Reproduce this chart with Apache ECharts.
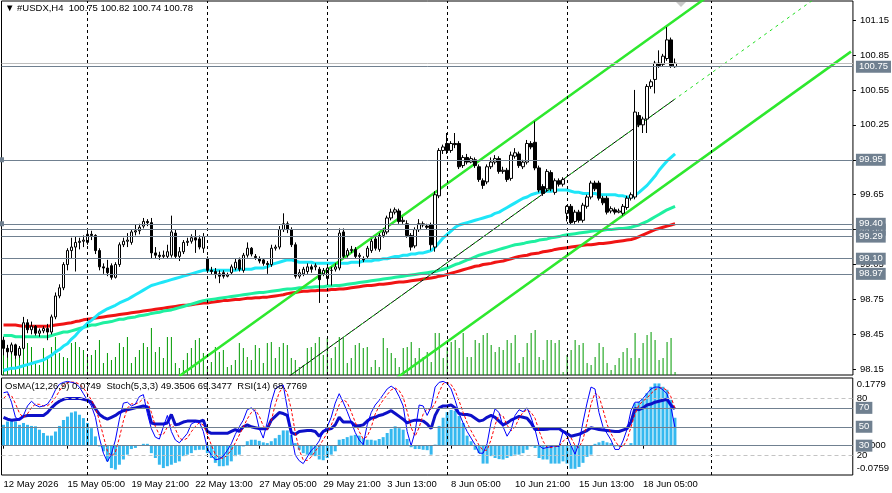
<!DOCTYPE html>
<html>
<head>
<meta charset="utf-8">
<script src="https://cdn.jsdelivr.net/npm/echarts@6/dist/echarts.min.js"></script>
<style>
html,body{margin:0;padding:0;background:#fff}
#chart{width:892px;height:493px}
</style>
</head>
<body>
<div id="chart"></div>
<script>
// H4 bars, [open, close, low, high]
var ohlc = [
 [98.40,98.33,98.27,98.43],[98.33,98.30,98.25,98.36],[98.30,98.36,98.28,98.38],[98.36,98.27,98.24,98.37],[98.27,98.33,98.25,98.35],
 [98.33,98.55,98.32,98.60],[98.55,98.49,98.46,98.58],[98.49,98.52,98.45,98.56],[98.52,98.46,98.44,98.53],[98.46,98.48,98.43,98.50],
 [98.48,98.50,98.46,98.52],[98.50,98.47,98.40,98.54],[98.47,98.60,98.45,98.62],[98.60,98.78,98.58,98.81],[98.78,98.85,98.76,98.88],
 [98.85,99.05,98.83,99.07],[99.05,99.17,99.00,99.19],[99.17,99.20,99.10,99.28],[99.20,99.24,98.99,99.29],[99.24,99.25,99.18,99.28],
 [99.25,99.26,99.20,99.30],[99.24,99.31,99.22,99.35],[99.31,99.30,99.26,99.34],[99.30,99.17,99.14,99.31],[99.17,99.03,99.00,99.19],
 [99.03,99.02,98.97,99.06],[99.02,98.98,98.95,99.09],[99.04,98.94,98.92,99.06],[98.94,99.05,98.93,99.07],[99.05,99.22,99.03,99.24],
 [99.22,99.25,99.20,99.28],[99.25,99.26,99.20,99.32],[99.24,99.33,99.22,99.35],[99.33,99.34,99.30,99.39],[99.34,99.37,99.31,99.40],
 [99.38,99.42,99.36,99.45],[99.42,99.41,99.38,99.44],[99.41,99.15,99.10,99.45],[99.15,99.13,99.10,99.20],[99.13,99.12,99.09,99.16],
 [99.12,99.13,99.10,99.17],[99.12,99.16,99.10,99.22],[99.13,99.33,99.11,99.47],[99.32,99.12,99.10,99.35],[99.12,99.16,99.08,99.20],
 [99.16,99.24,99.14,99.26],[99.24,99.25,99.21,99.28],[99.25,99.28,99.23,99.31],[99.28,99.26,99.15,99.35],[99.27,99.20,99.18,99.30],
 [99.19,99.29,99.15,99.32],[99.10,99.00,98.98,99.12],[99.00,98.99,98.96,99.03],[98.99,98.97,98.93,99.02],[98.97,98.95,98.89,99.00],
 [98.98,98.95,98.93,99.00],[98.95,98.96,98.94,98.98],[98.98,99.03,98.96,99.05],[99.02,99.07,99.00,99.10],[99.09,99.01,98.99,99.11],
 [99.00,99.13,98.98,99.15],[99.13,99.19,99.11,99.24],[99.19,99.14,99.12,99.20],[99.12,99.11,99.09,99.14],[99.10,99.08,99.06,99.12],
 [99.09,99.06,99.04,99.10],[99.06,99.05,98.97,99.08],[99.05,99.19,99.03,99.22],[99.19,99.20,99.17,99.22],[99.20,99.35,99.18,99.38],
 [99.35,99.40,99.33,99.49],[99.40,99.35,99.32,99.42],[99.35,99.22,99.20,99.37],[99.22,98.95,98.93,99.24],[98.95,98.98,98.93,99.01],
 [98.97,99.01,98.95,99.03],[98.99,99.03,98.97,99.06],[99.03,99.01,98.98,99.05],[99.03,99.04,99.00,99.06],[99.01,98.92,98.72,99.03],
 [98.97,99.00,98.95,99.02],[98.93,99.02,98.90,99.04],[99.00,99.00,98.87,99.03],[99.01,99.03,98.99,99.06],[99.02,99.32,99.00,99.36],
 [99.33,99.12,99.10,99.36],[99.13,99.17,99.11,99.19],[99.17,99.18,99.15,99.21],[99.18,99.12,99.10,99.20],[99.12,99.13,99.03,99.15],
 [99.10,99.09,99.07,99.12],[99.12,99.19,99.10,99.21],[99.17,99.25,99.15,99.27],[99.27,99.19,99.17,99.29],[99.18,99.30,99.16,99.32],
 [99.30,99.33,99.28,99.36],[99.33,99.45,99.31,99.47],[99.45,99.50,99.43,99.53],[99.50,99.52,99.48,99.54],[99.51,99.42,99.40,99.53],
 [99.42,99.43,99.40,99.46],[99.40,99.30,99.28,99.43],[99.30,99.20,99.17,99.32],[99.21,99.35,99.19,99.37],[99.35,99.40,99.33,99.44],
 [99.39,99.40,99.37,99.42],[99.38,99.37,99.35,99.40],[99.39,99.22,99.17,99.41],[99.20,99.65,99.16,99.68],[99.64,100.03,99.62,100.05],
 [100.03,100.06,100.00,100.08],[100.09,100.03,100.00,100.18],[100.03,100.09,100.01,100.11],[100.09,100.08,100.05,100.18],[100.09,99.89,99.87,100.11],
 [99.90,99.97,99.88,99.99],[99.97,99.93,99.91,100.00],[99.93,99.96,99.92,99.98],[99.95,99.90,99.88,99.97],[99.89,99.78,99.76,99.91],
 [99.77,99.73,99.70,99.79],[99.76,99.89,99.74,99.91],[99.89,99.93,99.87,99.97],[99.93,99.96,99.91,99.99],[99.96,99.85,99.83,99.98],
 [99.85,99.86,99.83,99.89],[99.86,99.78,99.76,99.88],[99.79,99.99,99.77,100.02],[99.98,100.01,99.96,100.05],[100.00,99.90,99.88,100.02],
 [99.89,99.93,99.87,99.95],[99.93,100.09,99.91,100.12],[100.09,100.06,100.04,100.11],[100.10,99.88,99.86,100.28],[99.88,99.69,99.67,99.90],
 [99.72,99.66,99.64,99.74],[99.70,99.85,99.68,99.87],[99.84,99.70,99.68,99.86],[99.67,99.77,99.65,99.79],[99.77,99.74,99.72,99.79],
 [99.74,99.78,99.72,99.80],[99.49,99.55,99.42,99.56],[99.55,99.41,99.39,99.57],[99.42,99.50,99.40,99.52],[99.50,99.43,99.41,99.52],
 [99.43,99.56,99.41,99.58],[99.55,99.63,99.53,99.65],[99.63,99.75,99.61,99.77],[99.75,99.70,99.68,99.77],[99.75,99.62,99.60,99.77],
 [99.62,99.58,99.56,99.64],[99.62,99.50,99.48,99.64],[99.51,99.53,99.49,99.55],[99.52,99.50,99.48,99.54],[99.50,99.51,99.49,99.53],
 [99.49,99.55,99.47,99.57],[99.54,99.62,99.52,99.64],[99.62,99.65,99.60,99.67],[99.63,100.36,99.61,100.55],[100.33,100.25,100.23,100.36],
 [100.25,100.30,100.18,100.32],[100.30,100.58,100.18,100.60],[100.58,100.62,100.56,100.64],[100.64,100.78,100.52,100.80],[100.78,100.76,100.74,100.89],
 [100.77,100.84,100.75,100.86],[100.82,100.98,100.80,101.09],[100.98,100.76,100.74,101.00],[100.75,100.78,100.74,100.82]
];

var volume = [
 33,28,32,22,18,37,32,28,12,10, 27,18,28,38,22,18,17,32,33,28,
 25,18,20,25,35,12,22,15,18,32, 28,38,12,18,25,32,28,47,23,28,
 17,38,38,12,7,15,22,27,35,37, 22,8,13,28,23,25,8,10,15,32,
 27,18,15,30,27,12,32,33,17,28, 32,30,17,15,8,10,27,28,32,38,
 20,37,17,28,38,37,12,17,30,32, 27,28,8,15,8,37,27,22,17,8,
 27,28,33,17,27,18,23,13,42,42, 17,28,33,35,27,42,18,18,35,32,
 40,42,30,23,28,25,35,32,40,12, 18,32,42,45,18,15,35,35,32,35,
 3,20,25,35,30,32,12,10,18,32, 28,12,5,10,17,23,27,17,42,17,
 32,40,43,35,15,17,33,37,3
];

var maFast = [
 98.14,98.15,98.16,98.16,98.17,98.18,98.19,98.20,98.21,98.22,
 98.23,98.25,98.27,98.30,98.32,98.35,98.37,98.41,98.44,98.48,
 98.51,98.545,98.57,98.60,98.63,98.65,98.67,98.685,98.70,98.72,
 98.735,98.75,98.77,98.79,98.81,98.83,98.85,98.87,98.88,98.89,
 98.90,98.91,98.92,98.93,98.94,98.95,98.96,98.97,98.98,98.99,
 99.00,99.00,99.00,99.00,99.00,99.00,99.00,99.00,99.00,99.01,
 99.01,99.01,99.01,99.02,99.02,99.02,99.03,99.05,99.06,99.07,
 99.08,99.09,99.09,99.08,99.07,99.07,99.07,99.07,99.06,99.06,
 99.06,99.06,99.06,99.06,99.06,99.06,99.06,99.07,99.07,99.07,
 99.08,99.08,99.08,99.09,99.09,99.10,99.10,99.11,99.12,99.12,
 99.13,99.13,99.14,99.14,99.15,99.15,99.16,99.17,99.20,99.24,
 99.28,99.31,99.34,99.37,99.39,99.40,99.41,99.42,99.43,99.44,
 99.45,99.46,99.47,99.49,99.50,99.52,99.54,99.56,99.58,99.60,
 99.62,99.63,99.65,99.66,99.67,99.68,99.68,99.68,99.69,99.69,
 99.69,99.69,99.68,99.67,99.67,99.66,99.66,99.66,99.66,99.65,
 99.65,99.65,99.65,99.65,99.64,99.64,99.63,99.63,99.645,99.67,
 99.70,99.73,99.77,99.81,99.86,99.90,99.94,99.97,100.00
];

var maMid = [
 98.44,98.44,98.44,98.43,98.43,98.43,98.43,98.43,98.43,98.43,
 98.43,98.43,98.44,98.45,98.46,98.47,98.47,98.48,98.49,98.50,
 98.51,98.52,98.53,98.53,98.54,98.55,98.555,98.56,98.57,98.58,
 98.58,98.59,98.595,98.60,98.61,98.615,98.62,98.63,98.635,98.64,
 98.65,98.655,98.66,98.67,98.68,98.69,98.70,98.71,98.72,98.73,
 98.74,98.745,98.75,98.755,98.76,98.765,98.77,98.775,98.78,98.785,
 98.79,98.795,98.80,98.805,98.81,98.81,98.815,98.82,98.825,98.83,
 98.835,98.84,98.84,98.845,98.85,98.85,98.855,98.855,98.86,98.86,
 98.86,98.865,98.865,98.87,98.87,98.875,98.88,98.885,98.89,98.895,
 98.90,98.905,98.91,98.915,98.92,98.925,98.93,98.935,98.94,98.945,
 98.95,98.955,98.96,98.965,98.97,98.975,98.98,98.985,98.99,99.00,
 99.01,99.02,99.035,99.05,99.06,99.075,99.09,99.10,99.115,99.13,
 99.14,99.15,99.16,99.17,99.18,99.19,99.20,99.21,99.22,99.225,
 99.23,99.24,99.245,99.25,99.26,99.265,99.27,99.28,99.285,99.29,
 99.30,99.305,99.31,99.315,99.32,99.325,99.33,99.335,99.34,99.34,
 99.345,99.35,99.35,99.355,99.36,99.36,99.365,99.37,99.38,99.39,
 99.405,99.42,99.44,99.46,99.48,99.50,99.52,99.535,99.55
];

var maSlow = [
 98.53,98.53,98.53,98.53,98.525,98.52,98.52,98.52,98.52,98.52,
 98.52,98.52,98.525,98.53,98.535,98.54,98.545,98.55,98.56,98.565,
 98.575,98.58,98.585,98.59,98.595,98.60,98.605,98.61,98.615,98.62,
 98.625,98.63,98.635,98.64,98.645,98.65,98.655,98.66,98.665,98.67,
 98.675,98.68,98.685,98.69,98.695,98.70,98.70,98.705,98.71,98.715,
 98.72,98.72,98.725,98.73,98.735,98.74,98.74,98.745,98.75,98.75,
 98.755,98.76,98.76,98.765,98.765,98.77,98.77,98.775,98.78,98.785,
 98.79,98.80,98.805,98.81,98.815,98.82,98.82,98.825,98.825,98.83,
 98.83,98.83,98.835,98.835,98.84,98.84,98.845,98.85,98.855,98.86,
 98.865,98.87,98.87,98.875,98.88,98.88,98.885,98.89,98.895,98.90,
 98.90,98.905,98.91,98.915,98.92,98.925,98.93,98.935,98.94,98.95,
 98.955,98.965,98.975,98.985,98.995,99.005,99.015,99.025,99.035,99.04,
 99.05,99.055,99.06,99.07,99.075,99.08,99.09,99.10,99.11,99.12,
 99.125,99.13,99.14,99.145,99.15,99.16,99.165,99.17,99.18,99.185,
 99.19,99.195,99.20,99.205,99.21,99.215,99.22,99.22,99.225,99.23,
 99.23,99.235,99.24,99.245,99.25,99.255,99.26,99.265,99.275,99.29,
 99.305,99.32,99.335,99.35,99.36,99.37,99.38,99.39,99.40
];

// channel anchors [bar, price]
var channelUpper = [[44, 98.092], [176, 101.348]];
var channelMiddle = [[68, 98.005], [212, 101.557]];
var channelMedian = [[68, 98.005], [168, 100.472]];
var channelLower = [[95, 97.993], [212, 100.879]];

var osma = [
 0.056,0.065,0.069,0.065,0.056,0.061,0.056,0.053,0.052,0.043,
 0.034,0.027,0.027,0.038,0.053,0.069,0.078,0.089,0.092,0.083,
 0.074,0.061,0.047,0.025,-0.002,-0.015,-0.042,-0.060,-0.064,-0.051,
 -0.037,-0.024,-0.009,-0.006,0.001,0.005,0.005,-0.020,-0.033,-0.051,
 -0.060,-0.055,-0.051,-0.046,-0.042,-0.028,-0.024,-0.020,-0.012,-0.011,
 -0.011,-0.020,-0.033,-0.046,-0.055,-0.055,-0.053,-0.042,-0.028,-0.024,
 -0.002,0.012,0.016,0.016,0.013,0.009,0.007,0.012,0.020,0.029,
 0.041,0.041,0.029,0.007,-0.011,-0.020,-0.024,-0.028,-0.028,-0.037,
 -0.039,-0.033,-0.024,-0.015,0.016,0.018,0.023,0.027,0.029,0.027,
 0.020,0.016,0.016,0.014,0.018,0.023,0.034,0.045,0.052,0.047,
 0.043,0.018,-0.004,-0.009,-0.009,-0.011,-0.012,-0.024,0.003,0.053,
 0.075,0.090,0.096,0.094,0.080,0.061,0.027,0.012,-0.011,-0.020,
 -0.048,-0.048,-0.028,-0.033,-0.036,-0.037,-0.033,-0.028,-0.024,-0.024,
 -0.020,-0.011,-0.002,-0.006,-0.033,-0.037,-0.037,-0.048,-0.048,-0.048,
 -0.042,-0.048,-0.062,-0.062,-0.057,-0.046,-0.030,-0.024,0.005,0.009,
 0.013,0.009,0.007,-0.002,-0.002,0.002,0.001,0.007,0.114,0.118,
 0.127,0.141,0.158,0.167,0.167,0.158,0.150,0.123,0.075
];

var stochMain = [
 86,87,76,60,57,62,72,77,73,71,
 72,74,80,89,95,97,98,97,96,92,
 85,78,72,60,38,22,13,21,36,58,
 75,76,72,74,82,84,64,48,39,37,
 50,62,45,36,33,38,43,53,55,55,
 45,27,20,15,16,19,25,32,42,50,
 57,68,70,66,48,38,55,76,90,93,
 94,70,42,20,14,11,18,25,29,35,
 45,50,60,75,85,76,66,55,44,36,
 31,52,65,73,78,84,90,93,90,82,
 72,45,30,45,73,72,62,71,92,97,
 98,96,90,78,64,54,45,38,31,22,
 22,32,55,69,65,50,40,47,62,68,
 66,70,60,47,30,27,28,29,30,29,
 45,40,30,21,33,55,75,92,90,65,
 50,43,36,26,26,35,47,67,76,76,
 80,85,90,92,92,89,85,71,49.35
];

var stochSignal = [
 80,84,83,74.3,64.3,59.7,63.7,70.3,74,73.7,
 72,72.3,75.3,81,88,93.7,96.7,97.3,97,95,
 91,85,78.3,70,56.7,40,24.3,18.7,23.3,38.3,
 56.3,69.7,74.3,74,76,80,76.7,65.3,50.3,41.3,
 42,49.7,52.3,47.7,38,35.7,38,44.7,50.3,54.3,
 51.7,42.3,30.7,20.7,17,16.7,20,25.3,33,41.3,
 49.7,58.3,65,68,61.3,50.7,47,56.3,73.7,86.3,
 92.3,85.7,68.7,44,25.3,15,14.3,18,24,29.7,
 36.3,43.3,51.7,61.7,73.3,78.7,75.7,65.7,55,45,
 37,39.7,49.3,63.3,72,78.3,84,89,91,88.3,
 81.3,66.3,49,40,49.3,63.3,69,68.3,75,86.7,
 95.7,97,94.7,88,77.3,65.3,54.3,45.7,38,30.3,
 25,25.3,36.3,52,63,61.3,51.7,45.7,49.7,59,
 65.3,68,65.3,59,45.7,34.7,28.3,28,29,29.3,
 34.7,38,38.3,30.3,28,36.3,54.3,74,85.7,82.3,
 68.3,52.7,43,35,29.3,29,36,49.7,63.3,73,
 77.3,80.3,85,89,91.3,91,88.7,81.7,69.35
];

var rsi = [
 60,58,57,57.5,58,61,62,62,62,62,
 62,65,70,74,77,79,80,80,80,80,
 79,78,76,69,63,60,58,60,62,65,
 67,68,69,70,71,72,71,54,53,53,
 53,54,63,52,53,55,56,56,56,55.5,
 57,45,43,43,43,43,43,45,47,45,
 50,52,50,49,48,48,48,57,61,65,
 64,62,44,42,45,45.5,46,46,45,40,
 45,47,48,52,60,55,55,55,51,51,
 52,56,59,60,62,63,65,67,64,61,
 58,54,56,57,57,56,53,48,62,70,
 72,72,73,70,64,63,63,62,59,56,
 57,60,62,60,56,52,54,57,59,61,
 60,59,54,47,47,47,47.3,48,48,48,
 45,43,40,41,42,44,46,49,48,47,
 46.5,46,45.5,45,45,46.5,48,55,69.5,68,
 70,73,74,76,77,78,79,73,68.78
];

var timeLabels = ['12 May 2026', '15 May 05:00', '19 May 21:00', '22 May 13:00', '27 May 05:00',
  '29 May 21:00', '3 Jun 13:00', '8 Jun 05:00', '10 Jun 21:00', '15 Jun 13:00', '18 Jun 05:00'];
var priceTicks = [98.15, 98.45, 98.75, 99.05, 99.35, 99.65, 99.95, 100.25, 100.55, 100.85, 101.15];
var gridBars = [21, 51, 81, 111, 141, 177];
var priceLevels = [99.35, 99.95, 99.40, 99.29, 99.10, 98.97];
var markedLevels = [99.95, 99.40];
var bidPrice = 100.75;
var askPrice = 100.78;
var stochLevels = [80, 20];
var rsiLevels = [70, 50, 30];
var osmaLabels = ['0.1779', '0.0000', '-0.0759'];

var slots = [];
for (var i = 0; i < 213; i++) slots.push(i);

var FONT = 'Liberation Sans';
var FS = 9.5;
var SLATE = '#708090';

var vLines = gridBars.map(function (b) { return { xAxis: b }; });

var boxLabel = function (digits) {
  return {
    show: true, position: 'end', distance: 3,
    formatter: function (p) { return p.value.toFixed(digits); },
    color: '#fff', backgroundColor: SLATE, padding: [1, 3, 0, 3],
    fontFamily: FONT, fontSize: FS, lineHeight: 11
  };
};

var levelData = priceLevels.map(function (v) {
  var d = { yAxis: v, label: boxLabel(2) };
  if (markedLevels.indexOf(v) >= 0) {
    d.symbol = ['emptyRect', 'emptyRect'];
    d.symbolSize = 5;
  }
  return d;
});
levelData.push({ yAxis: askPrice, lineStyle: { color: '#bdbdbd' }, label: { show: false } });
levelData.push({ yAxis: bidPrice, label: boxLabel(2) });

var indLevels = stochLevels.map(function (v) {
  return {
    yAxis: v, lineStyle: { color: '#c4c4c4', type: [4, 3] },
    label: { show: true, position: 'end', distance: 4, formatter: String(v), color: '#000', fontFamily: FONT, fontSize: FS }
  };
}).concat(rsiLevels.map(function (v) {
  return { yAxis: v, label: boxLabel(0) };
}));

var chart = echarts.init(document.getElementById('chart'), null, { renderer: 'canvas' });

var option = {
  backgroundColor: '#fff',
  animation: false,
  title: [
    {
      text: '▼ #USDX,H4  100.75 100.82 100.74 100.78',
      left: 5, top: 3, padding: 0,
      textStyle: { fontFamily: FONT, fontSize: FS, fontWeight: 'normal', color: '#000' }
    },
    {
      text: 'OsMA(12,26,9) 0.0749  Stoch(5,3,3) 49.3506 69.3477  RSI(14) 68.7769',
      left: 5, top: 381, padding: 0,
      textStyle: { fontFamily: FONT, fontSize: FS, fontWeight: 'normal', color: '#000' }
    }
  ],
  graphic: [
    { type: 'polygon', shape: { points: [[676, 2], [686, 2], [681, 7]] }, style: { fill: '#c8c8c8' }, z: 100 }
  ],
  grid: [
    { left: 1.5, right: 38.5, top: 1, height: 374, show: true, borderColor: '#000', borderWidth: 1, backgroundColor: '#fff' },
    { left: 1.5, right: 38.5, top: 378, height: 97, show: true, borderColor: '#000', borderWidth: 1, backgroundColor: '#fff' }
  ],
  xAxis: [
    {
      type: 'category', gridIndex: 0, data: slots,
      axisLine: { show: false }, axisTick: { show: false }, axisLabel: { show: false }, splitLine: { show: false }
    },
    {
      type: 'category', gridIndex: 1, data: slots,
      axisLine: { show: false },
      axisTick: {
        show: true, alignWithLabel: true, length: 3, lineStyle: { color: '#000' },
        interval: function (idx) { return idx % 16 === 0 && idx <= 160; }
      },
      axisLabel: {
        interval: function (idx) { return idx % 16 === 0 && idx <= 160; },
        formatter: function (v, idx) { return timeLabels[idx / 16]; },
        align: 'left', margin: 4, color: '#000', fontFamily: FONT, fontSize: FS
      },
      splitLine: { show: false }
    }
  ],
  yAxis: [
    {
      type: 'value', gridIndex: 0, position: 'right', min: 98.101, max: 101.314,
      axisLine: { show: false },
      axisTick: { show: true, inside: false, length: 3, customValues: priceTicks, lineStyle: { color: '#000' } },
      axisLabel: {
        customValues: priceTicks, margin: 7, color: '#000', fontFamily: FONT, fontSize: FS,
        formatter: function (v) { return v.toFixed(2); }
      },
      splitLine: { show: false }
    },
    { type: 'value', gridIndex: 0, min: 0, max: 374, show: false, splitLine: { show: false } },
    {
      type: 'value', gridIndex: 1, position: 'right', min: -0.0786, max: 0.1816,
      axisLine: { show: false }, axisTick: { show: false }, splitLine: { show: false },
      axisLabel: {
        customValues: [0.1655, 0, -0.0606], margin: 4, color: '#000', fontFamily: FONT, fontSize: FS,
        formatter: function (v) { return v > 0.01 ? osmaLabels[0] : (v < -0.01 ? osmaLabels[2] : osmaLabels[1]); }
      }
    },
    { type: 'value', gridIndex: 1, min: -1.06, max: 101.6, show: false, splitLine: { show: false } }
  ],
  series: [
    {
      name: 'Volume', type: 'bar', xAxisIndex: 0, yAxisIndex: 1, data: volume,
      barWidth: 1, itemStyle: { color: '#009a00' }, z: 1,
      markLine: {
        silent: true, symbol: 'none', label: { show: false },
        lineStyle: { color: '#000', type: [3, 3], width: 1 },
        data: vLines
      }
    },
    {
      name: 'MA slow', type: 'line', xAxisIndex: 0, yAxisIndex: 0, data: maSlow,
      showSymbol: false, lineStyle: { color: '#f01414', width: 3 }, z: 2
    },
    {
      name: 'MA mid', type: 'line', xAxisIndex: 0, yAxisIndex: 0, data: maMid,
      showSymbol: false, lineStyle: { color: '#1ef0a0', width: 3 }, z: 2
    },
    {
      name: 'MA fast', type: 'line', xAxisIndex: 0, yAxisIndex: 0, data: maFast,
      showSymbol: false, lineStyle: { color: '#1ee6f8', width: 3 }, z: 2
    },
    {
      name: 'Channel median', type: 'line', xAxisIndex: 0, yAxisIndex: 0, data: channelMedian,
      showSymbol: false, lineStyle: { color: '#000', width: 1 }, z: 3
    },
    {
      name: 'Channel middle', type: 'line', xAxisIndex: 0, yAxisIndex: 0, data: channelMiddle,
      showSymbol: false, lineStyle: { color: '#22dd22', width: 1, type: [3, 4] }, z: 3
    },
    {
      name: 'Channel upper', type: 'line', xAxisIndex: 0, yAxisIndex: 0, data: channelUpper,
      showSymbol: false, lineStyle: { color: '#2ee82e', width: 2.5 }, z: 3
    },
    {
      name: 'Channel lower', type: 'line', xAxisIndex: 0, yAxisIndex: 0, data: channelLower,
      showSymbol: false, lineStyle: { color: '#2ee82e', width: 2.5 }, z: 3
    },
    {
      name: 'USDX', type: 'candlestick', xAxisIndex: 0, yAxisIndex: 0, data: ohlc,
      barWidth: 3,
      itemStyle: { color: '#fff', color0: '#000', borderColor: '#000', borderColor0: '#000', borderWidth: 1 },
      z: 4,
      markLine: {
        silent: true, symbol: 'none',
        lineStyle: { color: SLATE, type: 'solid', width: 1 },
        data: levelData
      }
    },
    {
      name: 'OsMA', type: 'bar', xAxisIndex: 1, yAxisIndex: 2, data: osma,
      barWidth: 3, itemStyle: { color: '#35b8ef' }, z: 1,
      markLine: {
        silent: true, symbol: 'none', label: { show: false },
        lineStyle: { color: '#000', type: [3, 3], width: 1 },
        data: vLines
      }
    },
    {
      name: 'RSI', type: 'line', xAxisIndex: 1, yAxisIndex: 3, data: rsi,
      showSymbol: false, lineStyle: { color: '#0d10c8', width: 3 }, z: 3,
      markLine: {
        silent: true, symbol: 'none',
        lineStyle: { color: SLATE, type: 'solid', width: 1 },
        data: indLevels
      }
    },
    {
      name: 'Stoch signal', type: 'line', xAxisIndex: 1, yAxisIndex: 3, data: stochSignal,
      showSymbol: false, lineStyle: { color: '#ff0000', width: 1, type: [3, 2] }, z: 4
    },
    {
      name: 'Stoch main', type: 'line', xAxisIndex: 1, yAxisIndex: 3, data: stochMain,
      showSymbol: false, lineStyle: { color: '#0000ff', width: 1 }, z: 4
    }
  ]
};

chart.setOption(option);
</script>
</body>
</html>
